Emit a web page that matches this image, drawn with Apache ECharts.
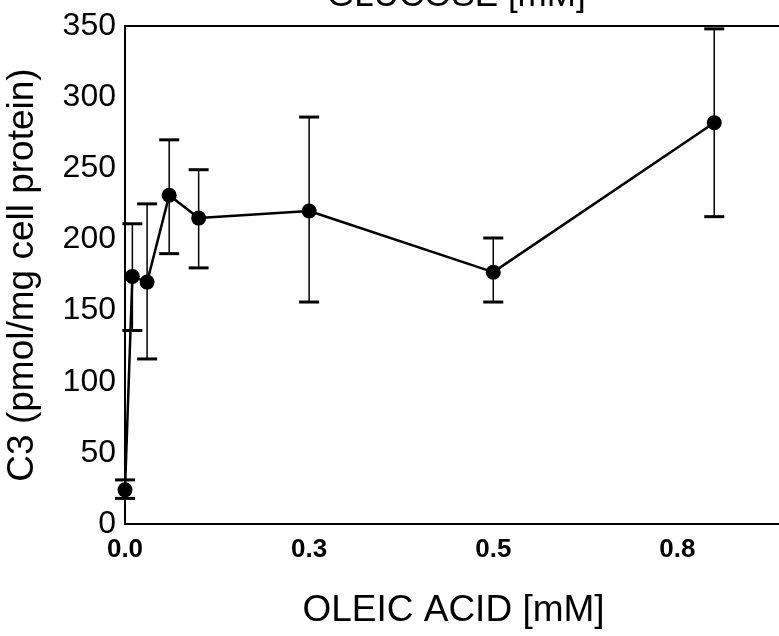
<!DOCTYPE html>
<html>
<head>
<meta charset="utf-8">
<script src="https://cdn.jsdelivr.net/npm/echarts@6/dist/echarts.min.js"></script>
<style>
  html, body { margin: 0; padding: 0; background: #fff; }
</style>
</head>
<body>
<div id="echarts" style="width: 779px;height: 636px"></div>
<script>
// oleic acid concentration [mM] and C3 content, with error bar bounds
var oleic = [0, 0.01, 0.03, 0.06, 0.1, 0.25, 0.5, 0.8];
var c3 = [24, 174, 170, 231, 215, 220, 177, 282];
var lowerBound = [18, 136, 116, 190, 180, 156, 156, 216];
var upperBound = [31, 211, 225, 270, 249, 286, 201, 348];

var yTicks = [0, 50, 100, 150, 200, 250, 300, 350];

var lineData = [];
var errData = [];
oleic.forEach(function (x, i) {
  lineData.push([x, c3[i]]);
  errData.push([x, lowerBound[i], upperBound[i]]);
});

var myChart = echarts.init(document.getElementById('echarts'));

myChart.setOption({
  animation: false,
  title: {
    text: 'GLUCOSE [mM]',
    left: 327,
    top: -21,
    padding: 0,
    textStyle: {
      fontFamily: 'Liberation Sans, Arial',
      fontSize: 35,
      fontWeight: 'normal',
      color: '#000'
    }
  },
  grid: {
    left: 125,
    right: -3,
    top: 26,
    bottom: 112,
    outerBoundsMode: 'none',
    show: true,
    borderColor: '#000',
    borderWidth: 2
  },
  xAxis: {
    type: 'value',
    min: 0,
    max: 0.892,
    interval: 0.25,
    name: 'OLEIC ACID [mM]',
    nameLocation: 'middle',
    nameGap: 68,
    nameTextStyle: {
      fontFamily: 'Liberation Sans, Arial',
      fontSize: 37,
      color: '#000'
    },
    axisLine: { show: true, lineStyle: { color: '#000', width: 2 } },
    axisTick: { show: false },
    splitLine: { show: false },
    axisLabel: {
      showMaxLabel: false,
      margin: 13,
      fontFamily: 'Liberation Sans, Arial',
      fontSize: 26,
      fontWeight: 'bold',
      color: '#000',
      formatter: function (v) { return v.toFixed(1); }
    }
  },
  yAxis: {
    type: 'value',
    min: yTicks[0],
    max: yTicks[yTicks.length - 1],
    interval: 50,
    name: 'C3 (pmol/mg cell protein)',
    nameLocation: 'middle',
    nameGap: 84,
    nameTextStyle: {
      fontFamily: 'Liberation Sans, Arial',
      fontSize: 37,
      color: '#000'
    },
    axisLine: { show: true, lineStyle: { color: '#000', width: 2 } },
    axisTick: { show: false },
    splitLine: { show: false },
    axisLabel: {
      margin: 9,
      fontFamily: 'Liberation Sans, Arial',
      fontSize: 32,
      color: '#000'
    }
  },
  series: [
    {
      // error bars
      type: 'custom',
      data: errData,
      z: 2,
      renderItem: function (params, api) {
        var x = api.value(0);
        var lo = api.coord([x, api.value(1)]);
        var hi = api.coord([x, api.value(2)]);
        var half = 10;
        return {
          type: 'group',
          children: [
            {
              type: 'line',
              shape: { x1: hi[0], y1: hi[1], x2: lo[0], y2: lo[1] },
              style: { stroke: '#000', lineWidth: 1.5 }
            },
            {
              type: 'line',
              shape: { x1: hi[0] - half, y1: hi[1], x2: hi[0] + half, y2: hi[1] },
              style: { stroke: '#000', lineWidth: 3 }
            },
            {
              type: 'line',
              shape: { x1: lo[0] - half, y1: lo[1], x2: lo[0] + half, y2: lo[1] },
              style: { stroke: '#000', lineWidth: 3 }
            }
          ]
        };
      }
    },
    {
      type: 'line',
      data: lineData,
      z: 3,
      symbol: 'circle',
      symbolSize: 15,
      lineStyle: { color: '#000', width: 2.5 },
      itemStyle: { color: '#000' }
    }
  ]
});
</script>
</body>
</html>
